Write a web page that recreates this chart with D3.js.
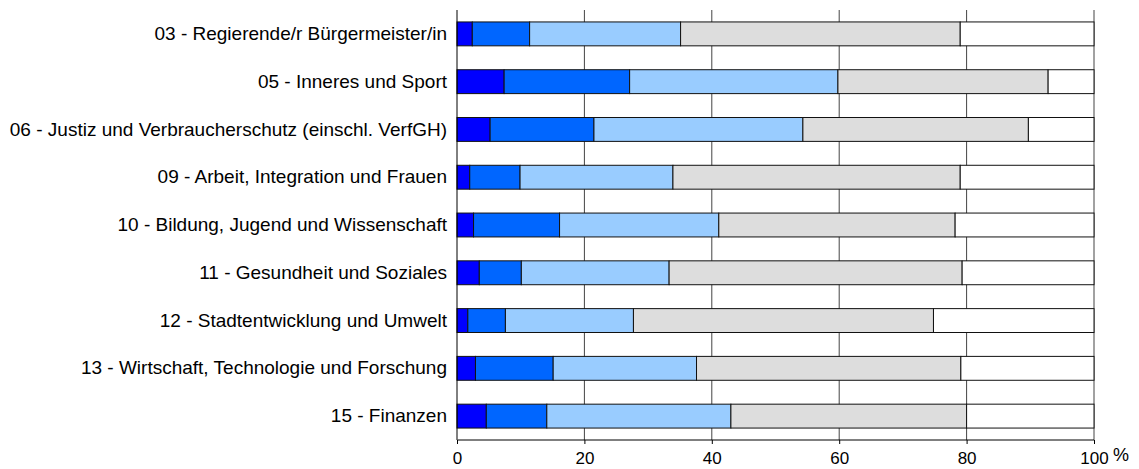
<!DOCTYPE html>
<html>
<head>
<meta charset="utf-8">
<script src="https://cdn.jsdelivr.net/npm/d3@7"></script>
<style>
  body { margin: 0; background: #fff; }
  svg { display: block; font-family: "Liberation Sans", Arial, sans-serif; }
</style>
</head>
<body>
<div id="chart"></div>
<script>
// Categories (top to bottom)
const categories = [
  '03 - Regierende/r Bürgermeister/in',
  '05 - Inneres und Sport',
  '06 - Justiz und Verbraucherschutz (einschl. VerfGH)',
  '09 - Arbeit, Integration und Frauen',
  '10 - Bildung, Jugend und Wissenschaft',
  '11 - Gesundheit und Soziales',
  '12 - Stadtentwicklung und Umwelt',
  '13 - Wirtschaft, Technologie und Forschung',
  '15 - Finanzen'
];

// Segment shares in % (left to right), one array per series
const seg1 = [2.4, 7.4, 5.2, 2.0, 2.6, 3.5, 1.7, 2.9, 4.6];
const seg2 = [9.0, 19.7, 16.3, 7.9, 13.5, 6.6, 5.9, 12.2, 9.5];
const seg3 = [23.7, 32.7, 32.8, 24.0, 25.0, 23.2, 20.1, 22.5, 28.9];
const seg4 = [43.9, 33.0, 35.4, 45.1, 37.1, 46.0, 47.1, 41.5, 37.0];
const seg5 = [21.0, 7.2, 10.3, 21.0, 21.8, 20.7, 25.2, 20.9, 20.0];

const xTicks = [0, 20, 40, 60, 80, 100];

const seriesKeys = ['seg1', 'seg2', 'seg3', 'seg4', 'seg5'];
const seriesColors = ['#0000ff', '#0066ff', '#99ccff', '#dddddd', '#ffffff'];

const rows = categories.map((c, i) => ({
  category: c,
  seg1: seg1[i], seg2: seg2[i], seg3: seg3[i], seg4: seg4[i], seg5: seg5[i]
}));

const W = 1139, H = 469;
const margin = { top: 10, right: 45, bottom: 29, left: 457 };
const width = W - margin.left - margin.right;
const height = H - margin.top - margin.bottom;

const svg = d3.select('#chart').append('svg')
  .attr('width', W)
  .attr('height', H);

const g = svg.append('g')
  .attr('transform', `translate(${margin.left},${margin.top})`);

const x = d3.scaleLinear().domain([0, 100]).range([0, width]);
const y = d3.scaleBand().domain(categories).range([0, height]).paddingInner(0.5).paddingOuter(0.25);

// Vertical gridlines
g.selectAll('.grid')
  .data(xTicks.filter(t => t > 0))
  .join('line')
  .attr('class', 'grid')
  .attr('x1', d => x(d)).attr('x2', d => x(d))
  .attr('y1', 0).attr('y2', height)
  .attr('stroke', '#444')
  .attr('stroke-width', 1);

// Stacked bars
const stacked = d3.stack().keys(seriesKeys)(rows);

g.selectAll('.series')
  .data(stacked)
  .join('g')
  .attr('class', 'series')
  .attr('fill', (d, i) => seriesColors[i])
  .selectAll('rect')
  .data(d => d)
  .join('rect')
  .attr('x', d => x(d[0]))
  .attr('y', d => y(d.data.category))
  .attr('width', d => x(d[1]) - x(d[0]))
  .attr('height', y.bandwidth())
  .attr('stroke', '#111')
  .attr('stroke-width', 1);

// Bottom axis
const xAxis = d3.axisBottom(x).tickValues(xTicks).tickSize(4).tickPadding(8);
const xAxisGroup = g.append('g')
  .attr('transform', `translate(0,${height})`)
  .call(xAxis);
xAxisGroup.select('.domain').attr('stroke', '#000').attr('d', `M0.5,0H${width}`);
xAxisGroup.selectAll('.tick line').attr('stroke', '#000');
xAxisGroup.selectAll('.tick text')
  .attr('fill', '#000')
  .style('font-size', '17px')
  .style('font-family', '"Liberation Sans", Arial, sans-serif');

// Left axis (line and labels only)
const yAxis = d3.axisLeft(y).tickSize(0).tickPadding(10);
const yAxisGroup = g.append('g').call(yAxis);
yAxisGroup.select('.domain').attr('stroke', '#000').attr('d', `M0,0V${height}`);
yAxisGroup.selectAll('.tick text')
  .attr('fill', '#000')
  .style('font-size', '19px')
  .style('font-family', '"Liberation Sans", Arial, sans-serif');

// Unit label
g.append('text')
  .attr('x', width + 19)
  .attr('y', height + 21)
  .style('font-size', '18px')
  .text('%');
</script>
</body>
</html>
